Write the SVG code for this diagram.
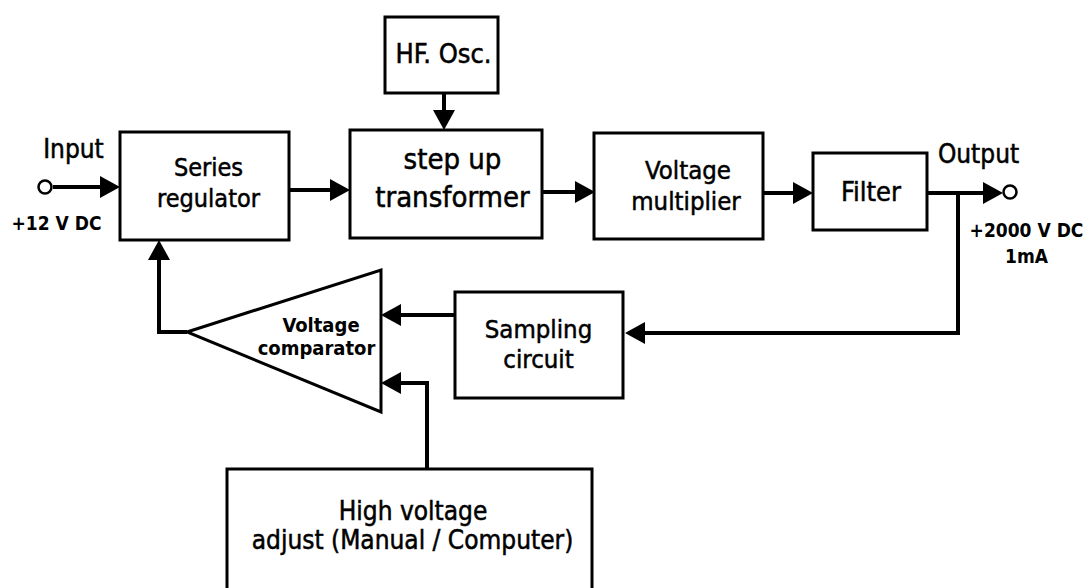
<svg xmlns="http://www.w3.org/2000/svg" width="1086" height="588" viewBox="0 0 1086 588">
<style>
.box{fill:#fff;stroke:#000;stroke-width:3}
.ln{fill:none;stroke:#000;stroke-width:4}
.t{font-family:"DejaVu Sans Condensed","DejaVu Sans",sans-serif;fill:#000;stroke:#000;stroke-width:0.5;text-anchor:middle;font-size:26px}
.b{font-family:"DejaVu Sans Condensed","DejaVu Sans",sans-serif;fill:#000;text-anchor:middle;font-weight:bold;font-size:19px}
</style>
<defs>
<marker id="ah" markerUnits="userSpaceOnUse" markerWidth="20" markerHeight="22" refX="0" refY="11" orient="auto">
<path d="M0,0 L20,11 L0,22 z" fill="#000"/>
</marker>
</defs>
<rect width="1086" height="588" fill="#fff"/>
<g id="connectors">
<path class="ln" d="M53,187 H100" marker-end="url(#ah)"/>
<path class="ln" d="M289,190 H330" marker-end="url(#ah)"/>
<path class="ln" d="M444,93 V110" marker-end="url(#ah)"/>
<path class="ln" d="M542,192 H575" marker-end="url(#ah)"/>
<path class="ln" d="M763,193 H793" marker-end="url(#ah)"/>
<path class="ln" d="M927,193 H983" marker-end="url(#ah)"/>
<path class="ln" d="M958,191 V333 H645" marker-end="url(#ah)"/>
<path class="ln" d="M455,315 H401" marker-end="url(#ah)"/>
<path class="ln" d="M427,469 V383 H401" marker-end="url(#ah)"/>
<path class="ln" d="M187,332 H159 V260" marker-end="url(#ah)"/>
</g>
<g id="input">
<circle cx="45" cy="187" r="6.5" fill="#fff" stroke="#000" stroke-width="2.5"/>
<text class="t" x="73.5" y="158">Input</text>
<text class="b" x="56.5" y="230">+12 V DC</text>
</g>
<g id="series-regulator">
<rect class="box" x="120" y="132" width="169" height="108"/>
<text class="t" x="208.5" y="176" style="font-size:25px">Series</text>
<text class="t" x="208.5" y="207" style="font-size:25px">regulator</text>
</g>
<g id="hf-osc">
<rect class="box" x="385" y="17" width="113" height="76"/>
<text class="t" x="443.5" y="63" style="font-size:27px">HF. Osc.</text>
</g>
<g id="step-up-transformer">
<rect class="box" x="350" y="130" width="192" height="108"/>
<text class="t" x="452.5" y="169" style="font-size:29px">step up</text>
<text class="t" x="452.5" y="207" style="font-size:29px">transformer</text>
</g>
<g id="voltage-multiplier">
<rect class="box" x="594" y="133" width="169" height="106"/>
<text class="t" x="688" y="179" style="font-size:25.5px">Voltage</text>
<text class="t" x="686" y="209.5" style="font-size:25.5px">multiplier</text>
</g>
<g id="filter">
<rect class="box" x="813" y="153" width="114" height="77"/>
<text class="t" x="871" y="201" style="font-size:27px">Filter</text>
</g>
<g id="output">
<circle cx="1010" cy="192" r="6.5" fill="#fff" stroke="#000" stroke-width="2.5"/>
<text class="t" x="978.5" y="163">Output</text>
<text class="b" x="1026.5" y="237">+2000 V DC</text>
<text class="b" x="1026.5" y="263">1mA</text>
</g>
<g id="sampling-circuit">
<rect class="box" x="455" y="292" width="168" height="106"/>
<text class="t" x="538.5" y="337.5" style="font-size:25.5px">Sampling</text>
<text class="t" x="538.5" y="368" style="font-size:25.5px">circuit</text>
</g>
<g id="voltage-comparator">
<polygon class="box" points="187,332 381,270 381,412"/>
<text class="b" x="321" y="332" style="font-size:20px">Voltage</text>
<text class="b" x="316.5" y="355" style="font-size:20px">comparator</text>
</g>
<g id="high-voltage-adjust">
<rect class="box" x="227" y="469" width="365" height="140"/>
<text class="t" x="413" y="520">High voltage</text>
<text class="t" x="412.5" y="549">adjust (Manual / Computer)</text>
</g>
</svg>
